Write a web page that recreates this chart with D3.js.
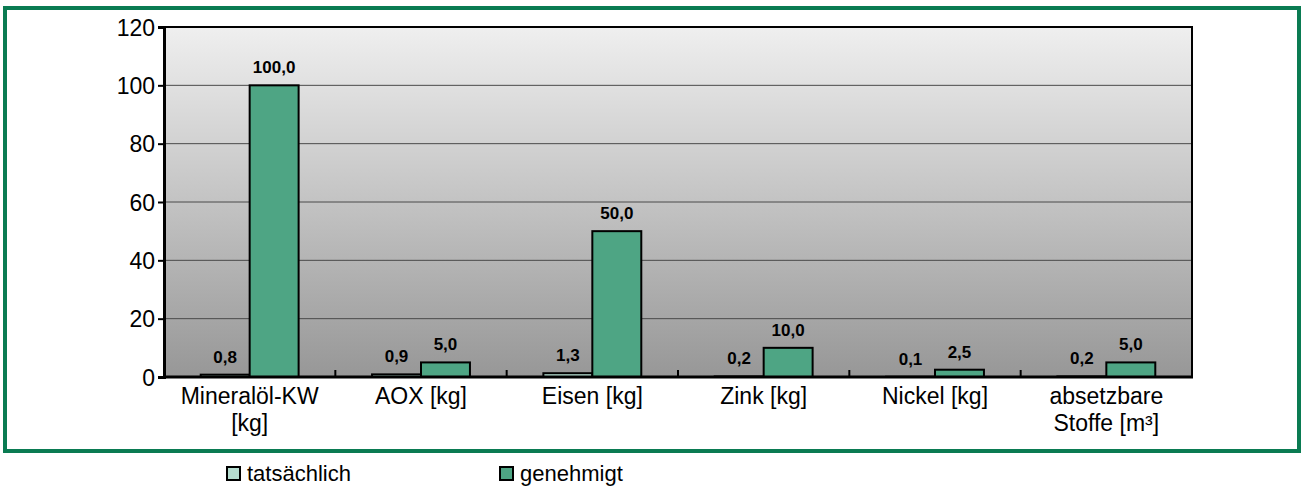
<!DOCTYPE html>
<html><head><meta charset="utf-8">
<script src="https://cdn.jsdelivr.net/npm/d3@7"></script>
<style>body{margin:0;background:#fff}svg{display:block;font-family:"Liberation Sans",Arial,sans-serif}</style>
</head><body><svg id="c" width="1304" height="488"></svg>
<script>
const categories = [["Mineralöl-KW","[kg]"],["AOX [kg]"],["Eisen [kg]"],["Zink [kg]"],["Nickel [kg]"],["absetzbare","Stoffe [m³]"]];
const seriesNames = ["tatsächlich","genehmigt"];
const tatsaechlich = [0.8,0.9,1.3,0.2,0.1,0.2];
const genehmigt = [100,5,50,10,2.5,5];
const yTicks = [0,20,40,60,80,100,120];
const colors = ["#b5ddd0","#4ea584"];

const svg = d3.select("#c");
const m = {l:164,t:27,r:1192,b:377};
const defs = svg.append("defs");
const g = defs.append("linearGradient").attr("id","bg").attr("x1",0).attr("y1",0).attr("x2",0).attr("y2",1);
g.append("stop").attr("offset","0%").attr("stop-color","#efefef");
g.append("stop").attr("offset","100%").attr("stop-color","#979797");

// outer frame
svg.append("rect").attr("x",5).attr("y",8).attr("width",1294).attr("height",443)
  .attr("fill","none").attr("stroke","#0a7b52").attr("stroke-width",4);

const x0 = d3.scaleBand().domain(d3.range(categories.length)).range([m.l,m.r]).padding(0);
const x1 = d3.scaleBand().domain([0,1]).range([0,x0.bandwidth()]).paddingInner(0).paddingOuter(0.75);
const y = d3.scaleLinear().domain([0,120]).range([m.b,m.t]);

svg.append("rect").attr("x",m.l).attr("y",m.t).attr("width",m.r-m.l).attr("height",m.b-m.t).attr("fill","url(#bg)");

// gridlines
svg.append("g").selectAll("line").data(yTicks.filter(d=>d>0&&d<120)).join("line")
  .attr("x1",m.l).attr("x2",m.r).attr("y1",d=>y(d)).attr("y2",d=>y(d))
  .attr("stroke","#4a4a4a").attr("stroke-width",1);

// bars
const data = categories.map((c,i)=>[tatsaechlich[i],genehmigt[i]]);
const groups = svg.append("g").selectAll("g").data(data).join("g").attr("transform",(d,i)=>`translate(${x0(i)},0)`);
groups.selectAll("rect").data(d=>d).join("rect")
  .attr("x",(d,j)=>x1(j)).attr("width",x1.bandwidth())
  .attr("y",d=>y(d)).attr("height",d=>y(0)-y(d))
  .attr("fill",(d,j)=>colors[j]).attr("stroke","#000").attr("stroke-width",2);
groups.selectAll("text").data(d=>d).join("text")
  .attr("x",(d,j)=>x1(j)+x1.bandwidth()/2).attr("y",d=>y(d)-12)
  .attr("text-anchor","middle").attr("font-size",17).attr("font-weight","bold").attr("fill","#000")
  .text(d=>d3.format(".1f")(d).replace(".",","));

// plot border
svg.append("rect").attr("x",m.l).attr("y",m.t).attr("width",m.r-m.l).attr("height",m.b-m.t)
  .attr("fill","none").attr("stroke","#000").attr("stroke-width",2);

// y axis
const ya = svg.append("g").attr("transform",`translate(${m.l},0)`)
  .call(d3.axisLeft(y).tickValues(yTicks).tickSize(6).tickPadding(3).tickFormat(d3.format("d")));
ya.attr("font-family",null).attr("font-size",null);
ya.select(".domain").attr("stroke","#000").attr("stroke-width",3);
ya.selectAll(".tick line").attr("stroke","#000").attr("stroke-width",2);
ya.selectAll("text").attr("font-size",23).attr("fill","#000").attr("dy","0.36em");

// x axis
svg.append("line").attr("x1",m.l).attr("x2",m.r+1).attr("y1",m.b).attr("y2",m.b).attr("stroke","#000").attr("stroke-width",3);
svg.append("g").selectAll("line").data(d3.range(1,categories.length)).join("line")
  .attr("x1",i=>x0(i)).attr("x2",i=>x0(i)).attr("y1",m.b).attr("y2",m.b-7).attr("stroke","#000").attr("stroke-width",2);
const cl = svg.append("g").selectAll("text").data(categories).join("text")
  .attr("x",(d,i)=>x0(i)+x0.bandwidth()/2).attr("y",404)
  .attr("text-anchor","middle").attr("font-size",23).attr("fill","#000");
cl.selectAll("tspan").data(d=>d).join("tspan")
  .attr("x",function(){return this.parentNode.getAttribute("x");})
  .attr("dy",(d,k)=>k===0?0:27).text(d=>d);

// legend
const lx = [227,500];
const lg = svg.append("g").selectAll("g").data(seriesNames).join("g").attr("transform",(d,i)=>`translate(${lx[i]},467)`);
lg.append("rect").attr("width",13).attr("height",13).attr("fill",(d,i)=>colors[i]).attr("stroke","#000").attr("stroke-width",2);
lg.append("text").attr("x",20).attr("y",14).attr("font-size",22).attr("fill","#000").text(d=>d);
</script></body></html>
